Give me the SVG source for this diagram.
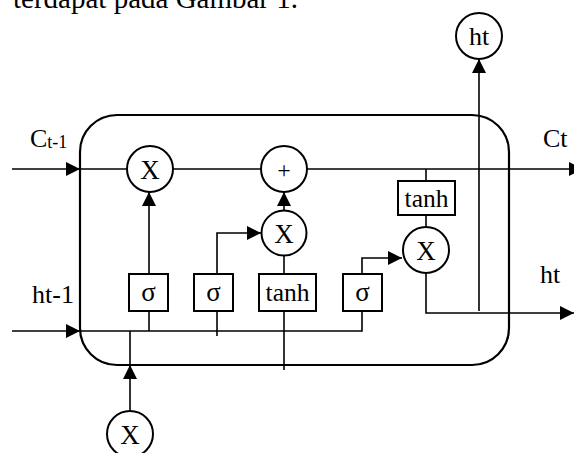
<svg xmlns="http://www.w3.org/2000/svg" width="574" height="453" viewBox="0 0 574 453">
<style>
.t{font-family:"Liberation Serif","Times New Roman",serif;fill:#000}
.c{fill:none;stroke:#000;stroke-width:1.6}
.n{fill:#fff;stroke:#000;stroke-width:2}
</style>
<defs>
<marker id="ah" viewBox="0 0 10 10" refX="10" refY="5" markerWidth="15" markerHeight="14" markerUnits="userSpaceOnUse" orient="auto">
<path d="M0,0 L10,5 L0,10 z" fill="#000"/>
</marker>
</defs>
<rect width="574" height="453" fill="#fff"/>
<text class="t" x="13" y="8" font-size="29">terdapat pada Gambar 1.</text>
<rect id="cell" x="80" y="115" width="429" height="250" rx="37" fill="none" stroke="#000" stroke-width="2.2"/>
<g id="connectors">
<path class="c" d="M12,169 H80" marker-end="url(#ah)"/>
<path class="c" d="M80,169 H583" marker-end="url(#ah)"/>
<path class="c" d="M12,331 H80" marker-end="url(#ah)"/>
<path class="c" d="M80,331 H362 V311"/>
<path class="c" d="M149,311 V331"/>
<path class="c" d="M149,274 V192" marker-end="url(#ah)"/>
<path class="c" d="M217,311 V336"/>
<path class="c" d="M217,274 V233 H261" marker-end="url(#ah)"/>
<path class="c" d="M284,311 V370"/>
<path class="c" d="M284,274 V256"/>
<path class="c" d="M284,210 V192" marker-end="url(#ah)"/>
<path class="c" d="M362,274 V258 H402" marker-end="url(#ah)"/>
<path class="c" d="M426,169 V181"/>
<path class="c" d="M426,215 V228"/>
<path class="c" d="M426,273 V313 H574" marker-end="url(#ah)"/>
<path class="c" d="M479,311 V59" marker-end="url(#ah)"/>
<path class="c" d="M130,411 V365" marker-end="url(#ah)"/>
<path class="c" d="M130,365 V331"/>
</g>
<g id="mulForget"><circle class="n" cx="150" cy="169" r="23"/><text class="t" x="150" y="178.5" font-size="27" text-anchor="middle">X</text></g>
<g id="add"><circle class="n" cx="284" cy="169" r="23"/><text class="t" x="284" y="178" font-size="24" text-anchor="middle">+</text></g>
<g id="mulInput"><circle class="n" cx="284" cy="233" r="22.5"/><text class="t" x="284" y="242.5" font-size="27" text-anchor="middle">X</text></g>
<g id="mulOutput"><circle class="n" cx="426" cy="250" r="23"/><text class="t" x="426" y="259.5" font-size="27" text-anchor="middle">X</text></g>
<g id="htOut"><circle class="n" cx="479" cy="36" r="23"/><text class="t" x="479" y="45" font-size="26" text-anchor="middle">ht</text></g>
<g id="mulIn"><circle class="n" cx="130" cy="434" r="23"/><text class="t" x="130" y="443.5" font-size="27" text-anchor="middle">X</text></g>
<g id="sigma1"><rect class="n" x="129" y="274" width="39" height="37"/><text class="t" x="148.5" y="301" font-size="27" text-anchor="middle">σ</text></g>
<g id="sigma2"><rect class="n" x="194" y="274" width="39" height="37"/><text class="t" x="213.5" y="301" font-size="27" text-anchor="middle">σ</text></g>
<g id="tanh1"><rect class="n" x="259" y="274" width="57" height="37"/><text class="t" x="287.5" y="301" font-size="25.5" text-anchor="middle">tanh</text></g>
<g id="sigma3"><rect class="n" x="343" y="274" width="39" height="37"/><text class="t" x="362.5" y="301" font-size="27" text-anchor="middle">σ</text></g>
<g id="tanh2"><rect class="n" x="398" y="181" width="57" height="34"/><text class="t" x="426.5" y="207" font-size="25.5" text-anchor="middle">tanh</text></g>
<g id="labels">
<text class="t" x="30" y="147" font-size="26">C<tspan font-size="18" dy="1">t-1</tspan></text>
<text class="t" x="543" y="147" font-size="26">Ct</text>
<text class="t" x="32" y="303" font-size="26">ht-1</text>
<text class="t" x="540" y="283" font-size="26">ht</text>
</g>
</svg>
